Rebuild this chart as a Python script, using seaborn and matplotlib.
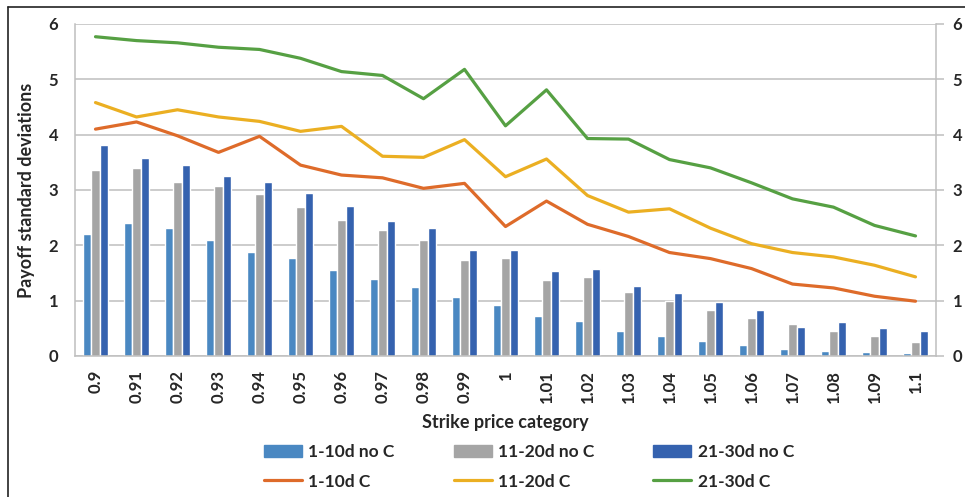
import matplotlib
matplotlib.use("Agg")
import matplotlib.pyplot as plt
import seaborn as sns
import pandas as pd
from matplotlib.patches import Patch
from matplotlib.lines import Line2D
from matplotlib import font_manager as fm

categories = ["0.9", "0.91", "0.92", "0.93", "0.94", "0.95", "0.96", "0.97", "0.98", "0.99", "1",
              "1.01", "1.02", "1.03", "1.04", "1.05", "1.06", "1.07", "1.08", "1.09", "1.1"]

bar_1_10_noC = [2.20, 2.40, 2.31, 2.10, 1.88, 1.78, 1.55, 1.40, 1.25, 1.07, 0.93,
                0.73, 0.64, 0.46, 0.37, 0.27, 0.20, 0.12, 0.09, 0.07, 0.06]
bar_11_20_noC = [3.37, 3.39, 3.15, 3.07, 2.92, 2.70, 2.46, 2.27, 2.10, 1.74, 1.77,
                 1.37, 1.43, 1.15, 1.00, 0.83, 0.68, 0.57, 0.46, 0.37, 0.26]
bar_21_30_noC = [3.82, 3.58, 3.45, 3.25, 3.15, 2.95, 2.71, 2.44, 2.31, 1.92, 1.92,
                 1.53, 1.57, 1.27, 1.13, 0.98, 0.83, 0.53, 0.61, 0.51, 0.45]

line_1_10_C = [4.10, 4.23, 3.98, 3.68, 3.97, 3.45, 3.27, 3.22, 3.03, 3.12, 2.34,
               2.80, 2.38, 2.16, 1.87, 1.76, 1.58, 1.30, 1.23, 1.08, 0.99]
line_11_20_C = [4.58, 4.32, 4.45, 4.32, 4.24, 4.06, 4.15, 3.61, 3.59, 3.91, 3.24,
                3.56, 2.90, 2.60, 2.66, 2.31, 2.03, 1.87, 1.79, 1.64, 1.43]
line_21_30_C = [5.77, 5.70, 5.66, 5.58, 5.54, 5.38, 5.14, 5.07, 4.65, 5.18, 4.16,
                4.81, 3.93, 3.92, 3.55, 3.40, 3.13, 2.84, 2.69, 2.36, 2.17]

bar_names = ["1-10d no C", "11-20d no C", "21-30d no C"]
line_names = ["1-10d C", "11-20d C", "21-30d C"]
bar_colors = ["#4A88C2", "#A5A5A5", "#3562AF"]
line_colors = ["#DE6B2A", "#EBAF22", "#56A043"]


def pick_bold_font():
    for fam in ["Lato", "Open Sans", "Noto Sans", "Roboto", "Liberation Sans", "DejaVu Sans"]:
        try:
            path = fm.findfont(fm.FontProperties(family=fam, weight="bold"),
                               fallback_to_default=False)
        except Exception:
            continue
        name = path.lower().replace(" ", "").replace("_", "").replace("-", "")
        if "bold" in name and fam.lower().replace(" ", "") in name:
            return fam
    return "DejaVu Sans"


BOLD_FAM = pick_bold_font()
FONT = [BOLD_FAM, "DejaVu Sans"]
FS_TICK = 12
FS_LABEL = 13
FS_LEG = 12.5

sns.set_theme(style="white")
plt.rcParams["font.family"] = FONT
plt.rcParams["font.weight"] = "bold"

bars_df = pd.DataFrame({
    "category": categories * 3,
    "value": bar_1_10_noC + bar_11_20_noC + bar_21_30_noC,
    "series": [bar_names[0]] * 21 + [bar_names[1]] * 21 + [bar_names[2]] * 21,
})
lines_df = pd.DataFrame({
    "pos": list(range(21)) * 3,
    "value": line_1_10_C + line_11_20_C + line_21_30_C,
    "series": [line_names[0]] * 21 + [line_names[1]] * 21 + [line_names[2]] * 21,
})

fig = plt.figure(figsize=(9.65, 4.97), dpi=100)
ax = fig.add_axes([75 / 965, 1 - 356 / 497, (936 - 75) / 965, (356 - 24) / 497])

sns.barplot(data=bars_df, x="category", y="value", hue="series", order=categories,
            hue_order=bar_names, palette=bar_colors, width=0.6, ax=ax,
            saturation=1, legend=False, zorder=2)
sns.lineplot(data=lines_df, x="pos", y="value", hue="series", hue_order=line_names,
             palette=line_colors, linewidth=2.3, ax=ax, legend=False, zorder=3)

ax.set_xlim(-0.5, 20.5)
ax.set_ylim(0, 6)
ax.set_yticks(range(7))
ax.yaxis.grid(True, color="#BFBFBF", linewidth=1.1, zorder=0)
ax.set_axisbelow(True)
for s in ["left", "bottom", "right"]:
    ax.spines[s].set_color("#BFBFBF")
    ax.spines[s].set_linewidth(1.1)
ax.spines["top"].set_visible(False)
ax.tick_params(axis="y", length=0, labelsize=FS_TICK, pad=12)
ax.tick_params(axis="x", length=0, labelsize=FS_TICK, rotation=90, pad=10)
for lbl in ax.get_xticklabels() + ax.get_yticklabels():
    lbl.set_fontweight("bold")
ax.set_xlabel("Strike price category", fontsize=FS_LABEL, fontweight="bold")
ax.set_ylabel("Payoff standard deviations", fontsize=FS_LABEL, fontweight="bold")
ax.xaxis.set_label_coords(0.5, (356 - 414) / 332)
ax.yaxis.set_label_coords((35 - 75) / 861, 0.5)

ax2 = ax.twinx()
ax2.set_ylim(0, 6)
ax2.set_yticks(range(7))
for s in ax2.spines.values():
    s.set_visible(False)
ax2.tick_params(axis="y", length=6, color="#BFBFBF", width=1.1, labelsize=FS_TICK, pad=6)
for lbl in ax2.get_yticklabels():
    lbl.set_fontweight("bold")
ax2.grid(False)

handles = []
labels = []
for i in range(3):
    handles.append(Patch(facecolor=bar_colors[i], edgecolor=bar_colors[i]))
    labels.append(bar_names[i])
    handles.append(Line2D([0], [0], color=line_colors[i], linewidth=2.3))
    labels.append(line_names[i])
fig.legend(handles, labels, ncol=3, loc="center", bbox_to_anchor=(529 / 965, 1 - 467 / 497),
           frameon=False, handlelength=2.2, handleheight=0.7,
           columnspacing=3.4, labelspacing=0.75, handletextpad=0.35,
           prop={"weight": "bold", "size": FS_LEG, "family": FONT})

# frame edges (left and top) of the surrounding box
fig.add_artist(Line2D([8 / 965, 8 / 965], [0, 1 - 7 / 497], transform=fig.transFigure,
                      color="#222222", linewidth=1.2))
fig.add_artist(Line2D([8 / 965, 1], [1 - 7 / 497, 1 - 7 / 497], transform=fig.transFigure,
                      color="#222222", linewidth=1.2))

fig.savefig("out.png", dpi=100, facecolor="white")
